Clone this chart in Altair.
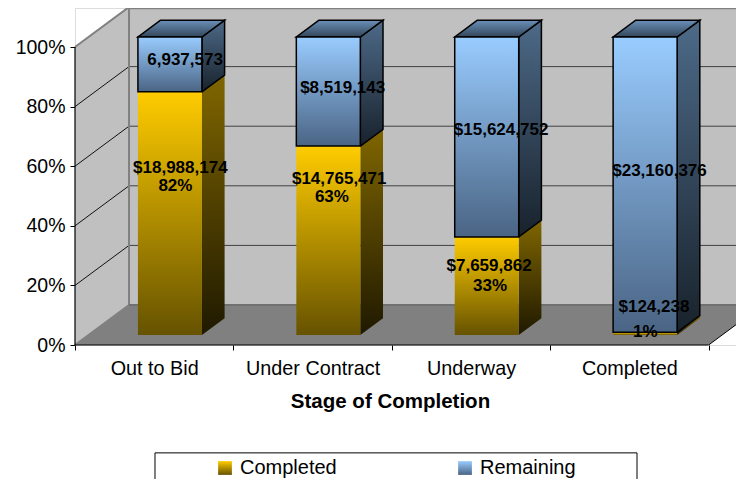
import altair as alt
import pandas as pd

categories = ["Out to Bid", "Under Contract", "Underway", "Completed"]
series_names = ["Completed", "Remaining"]
completed_pct = [81.6, 63.4, 32.9, 0.9]
completed_amounts = ["$18,988,174", "$14,765,471", "$7,659,862", "$124,238"]
completed_share = ["82%", "63%", "33%", "1%"]
remaining_amounts = ["6,937,573", "$8,519,143", "$15,624,752", "$23,160,376"]
y_ticks = [0, 20, 40, 60, 80, 100]

# label anchors (category units / percent units)
amount_x = [0.665, 1.668, 2.614, 3.655]
amount_y = [59.4, 55.7, 26.5, 12.75]
share_x = [0.634, 1.622, 2.62, 3.60]
share_y = [53.4, 49.7, 19.8, 4.4]
remain_x = [0.695, 1.69, 2.69, 3.69]
remain_y = [95.6, 86.2, 72.1, 58.4]

# oblique projection, in scale units
DX, DY = 0.341, 13.42      # full floor depth
BD0, BD1 = 0.25, 0.67      # bar front / back depth
LEFT, BW = 0.312, 0.404    # bar left offset and width
XMAX, YMAX = 661 / 158.4, 337 / 2.98
x_scale = alt.Scale(domain=[0, XMAX], nice=False, zero=False)
y_scale = alt.Scale(domain=[0, YMAX], nice=False, zero=False)
FONT = "Liberation Sans"

label_vals = [0.5, 1.5, 2.5, 3.5]
x_axis = alt.Axis(values=sorted(label_vals + [0, 1, 2, 3, 4]),
                  labelExpr="datum.value % 1 == 0 ? '' : ['" + "','".join(categories) + "'][floor(datum.value)]",
                  tickOpacity={"condition": {"test": "datum.value % 1 == 0", "value": 1}, "value": 0},
                  tickColor="black", tickSize=5, domain=False, grid=False, labelPadding=8,
                  labelFont=FONT, labelFontSize=19.8, labelColor="black", labelAngle=0, labelFlush=False,
                  labelOverlap=False, title="Stage of Completion", titleFont=FONT, titleFontSize=20.5,
                  titleFontWeight="bold", titleColor="black", titleX=315, titleY=56,
                  titleBaseline="middle", titleAlign="center")
y_axis = alt.Axis(values=y_ticks, labelExpr="datum.value + '%'", tickColor="black", tickSize=5,
                  domain=False, grid=False, labelPadding=5, labelFont=FONT, labelFontSize=19.5,
                  labelColor="black", labelFlush=False, title=None)


def grad(c0, c1, y1=0, y2=1):
    return alt.LinearGradient(gradient="linear", x1=0, x2=0, y1=y1, y2=y2,
                              stops=[alt.GradientStop(color=c0, offset=0),
                                     alt.GradientStop(color=c1, offset=1)])


def grad_expr(c0, c1):
    return {"expr": "{gradient:'linear',x1:0,y1:0,x2:0,y2:1,stops:[{offset:0,color:'%s'},{offset:1,color:'%s'}]}" % (c0, c1)}


X = lambda f="x": alt.X(f, type="quantitative", scale=x_scale, axis=x_axis)
Y = lambda f="y": alt.Y(f, type="quantitative", scale=y_scale, axis=y_axis)

# ---------- walls and floor
walls = alt.Chart(pd.DataFrame({"x": [DX], "x2": [XMAX], "y": [DY], "y2": [YMAX]})).mark_rect(
    fill="#C0C0C0").encode(X(), x2="x2", y=Y(), y2="y2")
side_wall = alt.Chart(pd.DataFrame({"x": [0, DX], "y": [0, DY], "y2": [100, 100 + DY]})).mark_area(
    fill="#C0C0C0").encode(X(), Y(), y2="y2")
floor = alt.Chart(pd.DataFrame({"y": [0, DY], "x": [0, DX], "x2": [4, 4 + DX]})).mark_area(
    fill="#808080", orient="horizontal", clip=True).encode(Y(), X(), x2="x2")

# ---------- grid lines
grid_back = alt.Chart(pd.DataFrame({"y": [v + DY for v in y_ticks[1:-1]], "x": DX, "x2": XMAX})).mark_rule(
    color="#404040", strokeWidth=1).encode(X(), x2="x2", y=Y())
grid_side = pd.DataFrame([{"v": v, "x": t * DX, "y": v + t * DY} for v in y_ticks[1:-1] for t in (0, 1)])
grid_side = alt.Chart(grid_side).mark_line(color="#111111", strokeWidth=1).encode(X(), Y(), detail="v:N")
edges = pd.DataFrame([{"v": v, "x": t * DX, "y": v + t * DY} for v in (0, 100) for t in (0, 1)])
edges = alt.Chart(edges).mark_line(color="#808080", strokeWidth=2).encode(X(), Y(), detail="v:N")
top_edge = alt.Chart(pd.DataFrame({"x": [DX], "x2": [XMAX], "y": [YMAX - 0.1]})).mark_rule(
    color="#808080", strokeWidth=2).encode(X(), x2="x2", y=Y())
back_edges = alt.Chart(pd.DataFrame({"x": [DX], "y": [DY], "y2": [YMAX]})).mark_rule(
    color="#808080", strokeWidth=2).encode(X(), y=Y(), y2="y2")
floor_back = alt.Chart(pd.DataFrame({"x": [DX], "x2": [XMAX], "y": [DY]})).mark_rule(
    color="#707070", strokeWidth=2).encode(X(), x2="x2", y=Y())
right_edge = alt.Chart(pd.DataFrame({"x": [4, 4 + DX], "y": [0, DY]})).mark_line(
    color="black", strokeWidth=1, clip=True).encode(X(), Y())

# ---------- bars
rows = []
for i, c in enumerate(completed_pct):
    rows.append({"cat": categories[i], "i": i, "series": "Completed", "lo": 0, "hi": c})
    rows.append({"cat": categories[i], "i": i, "series": "Remaining", "lo": c, "hi": 100})
bars = pd.DataFrame(rows)
bars["xl"] = bars.i + LEFT + BD0 * DX
bars["xr"] = bars.xl + BW
bars["y0"] = bars.lo + BD0 * DY
bars["y1"] = bars.hi + BD0 * DY

side_rows = []
for r in rows:
    for d in (BD0, BD1):
        side_rows.append({"key": r["i"], "series": r["series"],
                          "x": r["i"] + LEFT + BW + d * DX,
                          "y": r["lo"] + d * DY,
                          "y2": r["hi"] + d * DY})
sides = pd.DataFrame(side_rows)

top_rows = []
for i in range(len(categories)):
    for d in (BD0, BD1):
        top_rows.append({"key": i, "x": i + LEFT + d * DX, "x2": i + LEFT + BW + d * DX,
                         "y": 100 + d * DY})
tops = pd.DataFrame(top_rows)

gold_side = alt.Chart(sides[sides.series == "Completed"]).mark_area(
    color=grad("#806600", "#1f1900")).encode(X(), Y(), y2="y2", detail="key:N")
blue_side = alt.Chart(sides[sides.series == "Remaining"]).mark_area(
    color=grad("#4d6a88", "#18222c"), stroke="black", strokeWidth=1.5).encode(X(), Y(), y2="y2", detail="key:N")
top_face = alt.Chart(tops).mark_area(
    color=grad("#6a90b8", "#33465a"), orient="horizontal", stroke="black", strokeWidth=1.5).encode(
    Y(), X(), x2="x2", detail="key:N")

legend = alt.Legend(orient="none", legendX=140, legendY=450, direction="horizontal", columns=2,
                    title=None, symbolType="square", symbolSize=190, symbolStrokeWidth=0.8,
                    labelFont=FONT, labelFontSize=20, labelColor="black", labelOffset=5,
                    columnPadding=118, padding=0)
front = alt.Chart(bars).mark_rect().encode(
    X("xl"), x2="xr", y=Y("y0"), y2="y1",
    color=alt.Color("series:N", legend=legend,
                    scale=alt.Scale(domain=series_names,
                                    range=[grad_expr("#ffcc00", "#665200"), grad_expr("#99ccff", "#4a6484")])),
    stroke=alt.condition("datum.series == 'Remaining'", alt.value("black"), alt.value("transparent")),
    strokeWidth=alt.value(1.5),
)

# ---------- legend frame (drawn under the legend)
frame = alt.Chart(pd.DataFrame({"x": [0.505], "x2": [3.548], "y": [-36.2], "y2": [-60]})).mark_rect(
    fill="white", stroke="black", strokeWidth=1).encode(X(), x2="x2", y=Y(), y2="y2")

# ---------- axes lines
axis_x = alt.Chart(pd.DataFrame({"x": [0], "x2": [4], "y": [0]})).mark_rule(color="black", strokeWidth=1.2).encode(
    X(), x2="x2", y=Y())
axis_y = alt.Chart(pd.DataFrame({"x": [0], "y": [0], "y2": [100]})).mark_rule(color="black", strokeWidth=1.2).encode(
    X(), Y(), y2="y2")

# ---------- data labels
lab = pd.DataFrame({
    "t": completed_amounts + completed_share + remaining_amounts,
    "x": amount_x + share_x + remain_x,
    "y": amount_y + share_y + remain_y,
})
labels = alt.Chart(lab).mark_text(font=FONT, fontSize=17, fontWeight="bold", color="black",
                                  align="center", baseline="middle").encode(X(), Y(), text="t:N")

chart = alt.layer(
    frame, walls, side_wall, floor, grid_back, grid_side, edges, back_edges, floor_back, top_edge,
    right_edge, axis_x, axis_y, gold_side, blue_side, top_face, front, labels
).properties(
    width=661, height=337,
    padding={"left": 67, "top": 0, "right": 0, "bottom": 134},
    autosize=alt.AutoSizeParams(type="none"),
).configure_view(stroke=None).configure(background="white")

chart.save("out.html", embed_options={"renderer": "svg", "actions": False})
